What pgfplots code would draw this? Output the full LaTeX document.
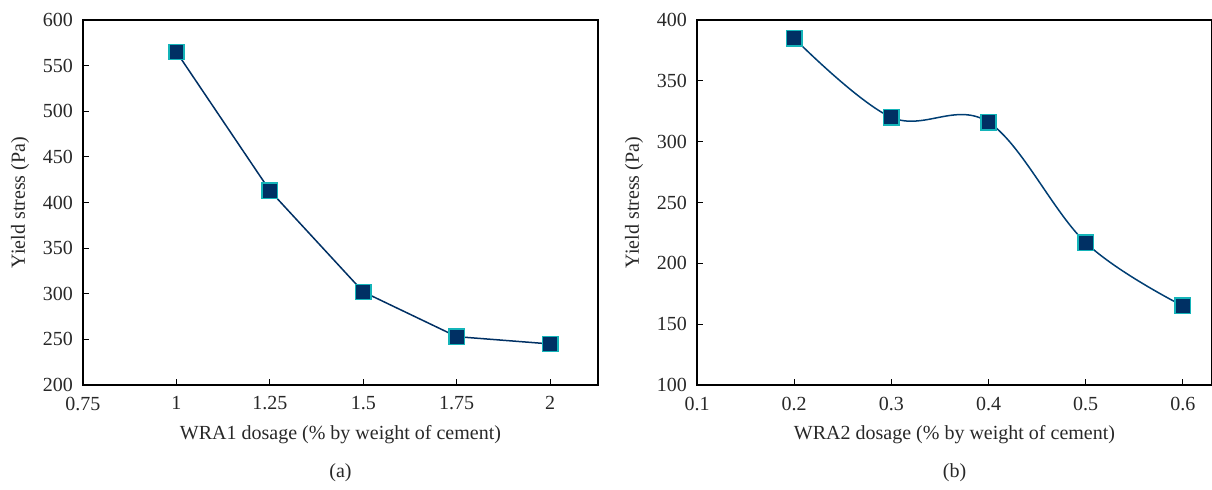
\documentclass[border=0pt]{standalone}
\usepackage{pgfplots}
\pgfplotsset{compat=1.18}
\usepackage{fontspec}
\setmainfont{Liberation Serif}
\definecolor{navy}{RGB}{0,48,100}
\definecolor{curve}{RGB}{0,62,115}
\definecolor{edge}{RGB}{20,180,185}
\definecolor{txt}{RGB}{40,40,40}
\pgfplotsset{
  myax/.style={
    scale only axis, width=309pt, height=219pt, clip=false,
    axis line style={black, line width=0.8pt},
    tick align=inside, xtick pos=left, ytick pos=left,
    major tick length=3.6pt,
    tick style={black, line width=0.6pt},
    /pgf/number format/assume math mode=true,
    every tick label/.append style={font=\fontsize{12}{14}\selectfont, text=txt},
    xticklabel style={yshift=-3.5pt},
    yticklabel style={xshift=-2.5pt},
    label style={font=\fontsize{12}{14}\selectfont, text=txt},
    ylabel style={at={(axis description cs:-0.122,0.5)}, anchor=center},
    xlabel style={at={(axis description cs:0.5,-0.137)}, anchor=center},
    /pgf/number format/.cd, fixed, 1000 sep={},
  },
  mymark/.style={mark=square*, mark size=4.6pt, mark options={fill=navy, draw=edge, line width=0.9pt, solid}},
}
\begin{document}
\begin{tikzpicture}
\useasboundingbox (-49.8pt,-63pt) rectangle (677.4pt,231pt);
\begin{axis}[myax, at={(0pt,0pt)}, anchor=south west,
  xmin=0.75, xmax=2.128, ymin=200, ymax=600,
  xtick={0.75,1,1.25,1.5,1.75,2}, xticklabels={0.75,1,1.25,1.5,1.75,2},
  ytick={200,250,...,600},
  xlabel={WRA1 dosage (\% by weight of cement)},
  ylabel={Yield stress (Pa)}]
\addplot[color=navy, line width=0.9pt, mymark] coordinates {(1,565) (1.25,413) (1.5,302) (1.75,253) (2,245)};
\node[font=\fontsize{12}{14}\selectfont, text=txt] at (axis description cs:0.5,-0.241) {(a)};
\end{axis}
\begin{axis}[myax, at={(368.4pt,0pt)}, anchor=south west,
  xmin=0.1, xmax=0.63, ymin=100, ymax=400,
  xtick={0.1,0.2,...,0.6}, xticklabels={0.1,0.2,0.3,0.4,0.5,0.6},
  ytick={100,150,...,400},
  xlabel={WRA2 dosage (\% by weight of cement)},
  ylabel={Yield stress (Pa)}]
\addplot[color=curve, line width=0.9pt, smooth, tension=0.6, mymark] coordinates {(0.2,385) (0.3,320) (0.4,316) (0.5,217) (0.6,165)};
\node[font=\fontsize{12}{14}\selectfont, text=txt] at (axis description cs:0.5,-0.241) {(b)};
\end{axis}
\end{tikzpicture}
\end{document}
